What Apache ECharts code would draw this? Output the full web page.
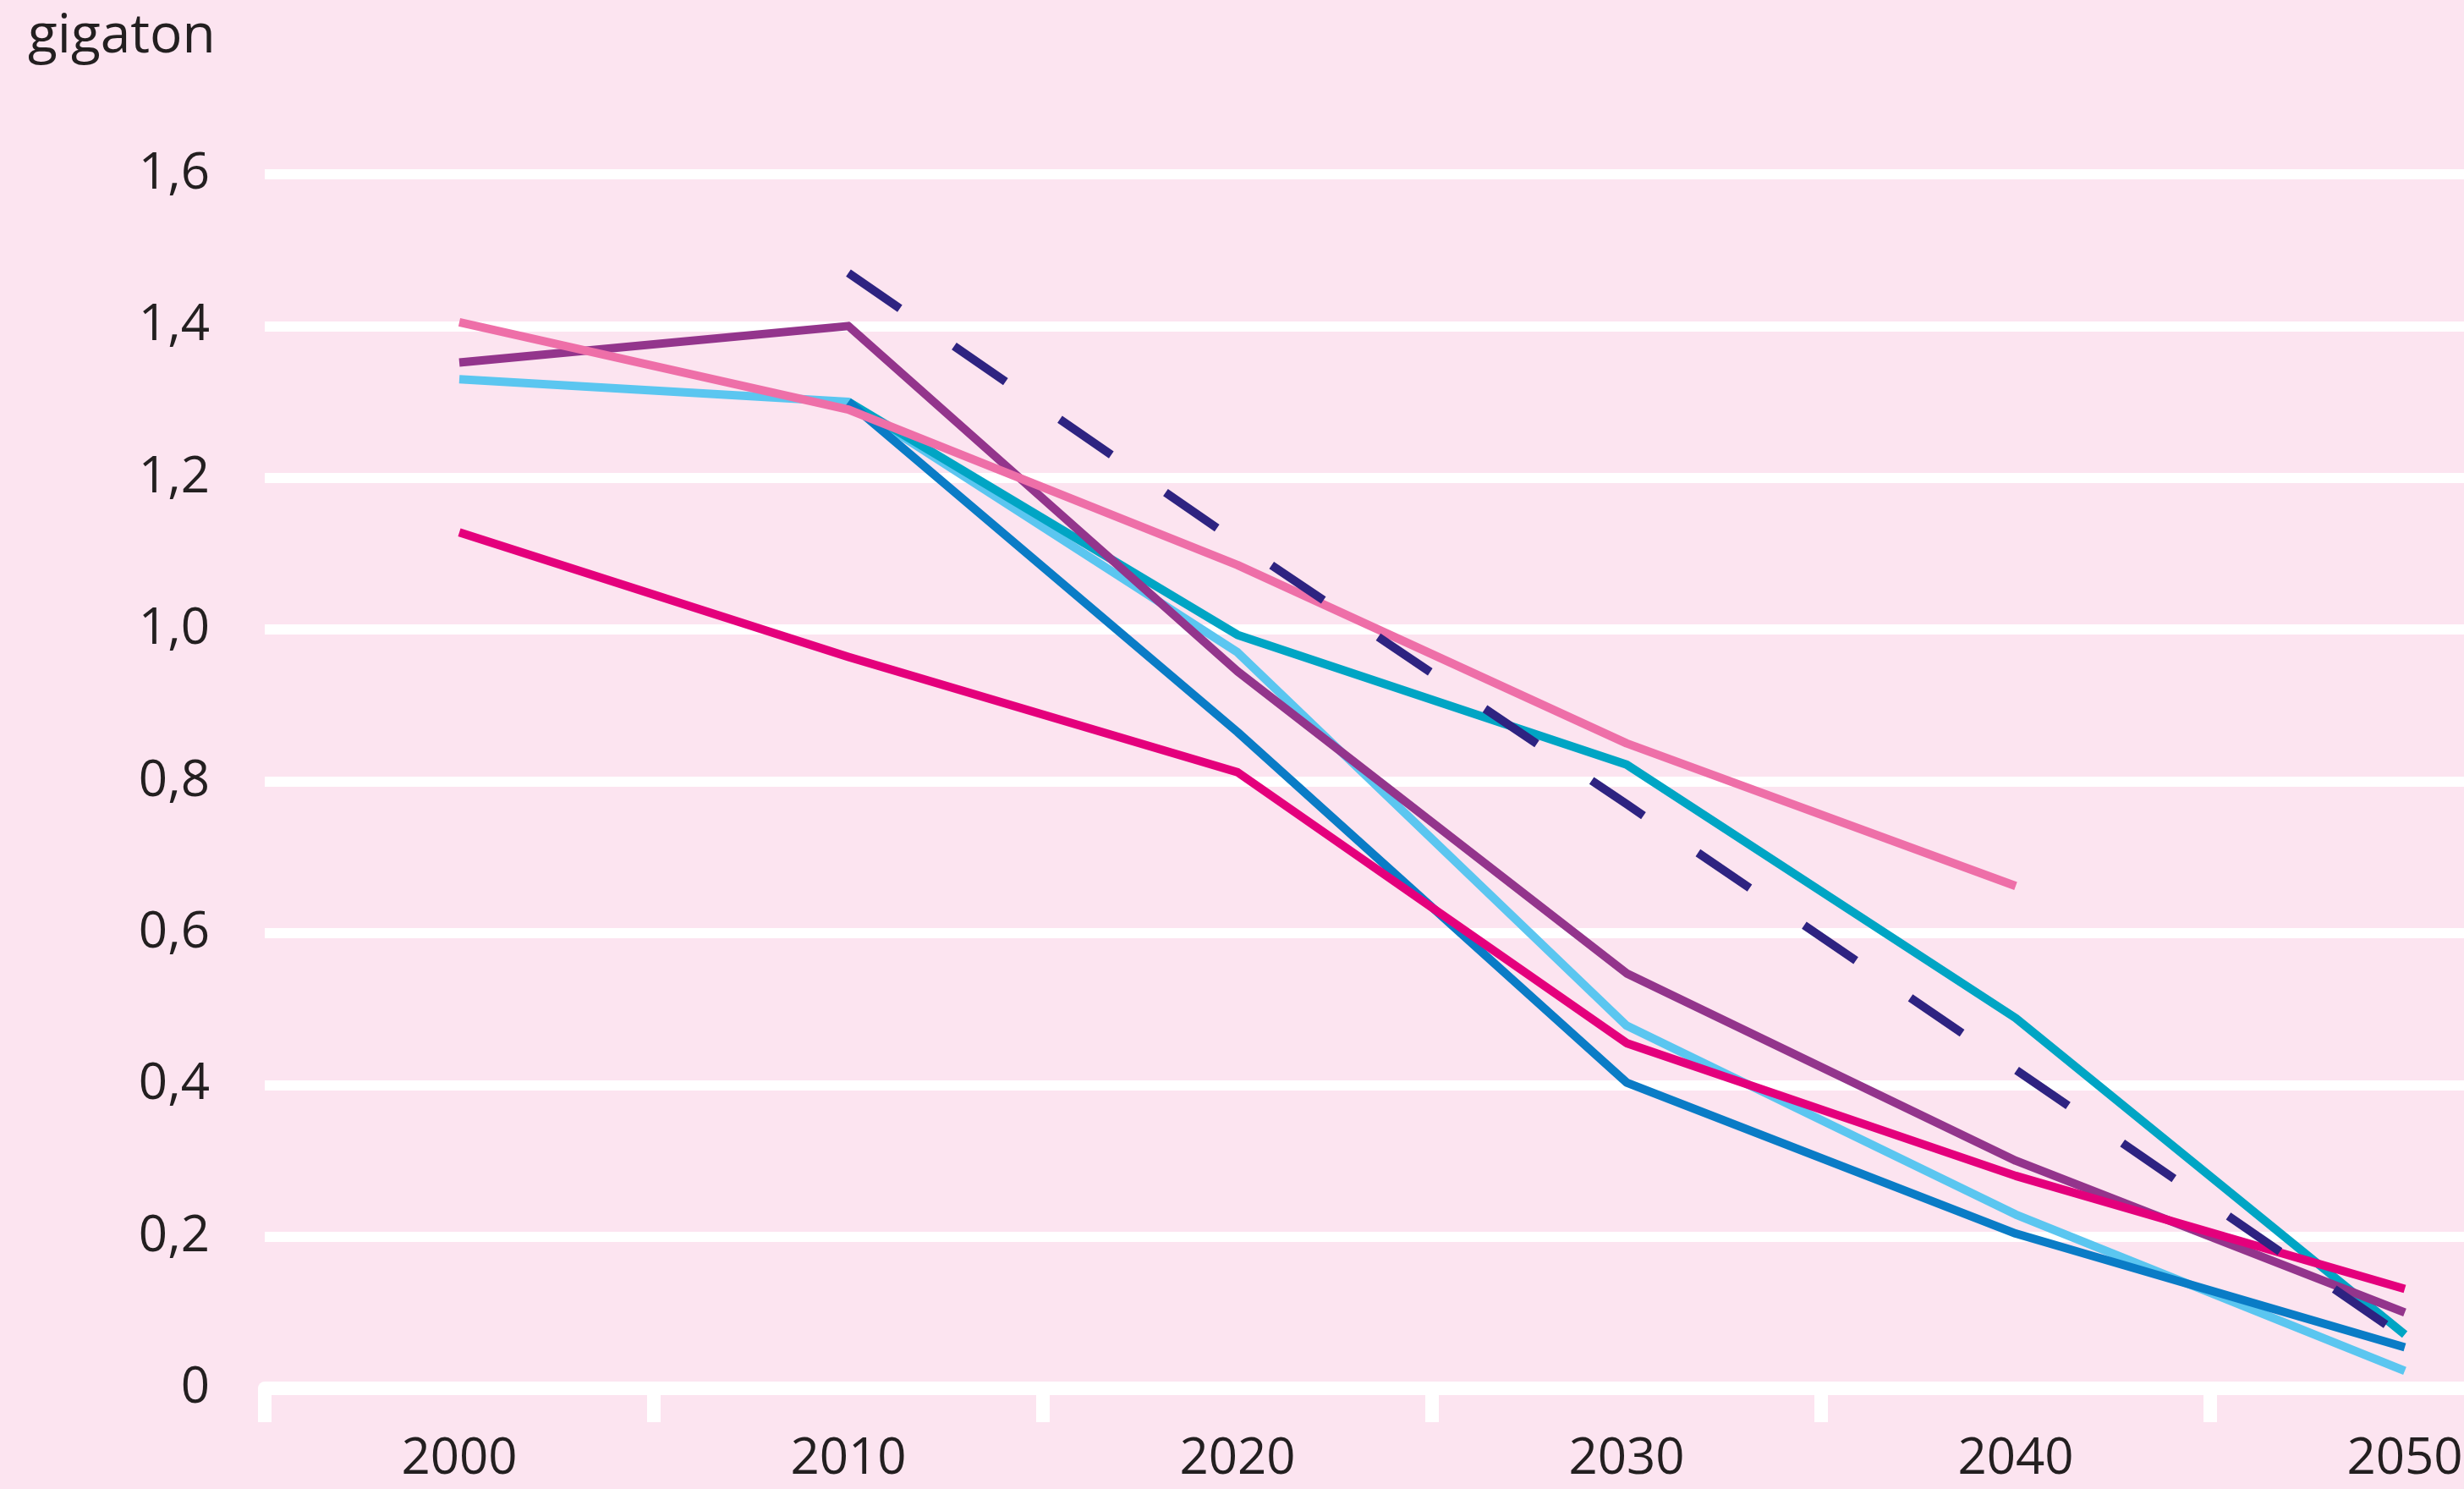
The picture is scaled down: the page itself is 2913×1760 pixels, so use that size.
<!DOCTYPE html>
<html>
<head>
<meta charset="utf-8">
<style>
  html, body { margin: 0; padding: 0; background: #fce4f0; overflow: hidden; width: 2913px; height: 1760px; }
  #chart { width: 3100px; height: 1760px; }
</style>
<script src="https://cdn.jsdelivr.net/npm/echarts@6/dist/echarts.min.js"></script>
</head>
<body>
<div id="chart"></div>
<script>
const years = ['2000', '2010', '2020', '2030', '2040', '2050'];
const yTickLabels = ['0', '0,2', '0,4', '0,6', '0,8', '1,0', '1,2', '1,4', '1,6'];

const lightBlue = [1.33, 1.30, 0.97, 0.478, 0.229, 0.023];
const teal      = [null, 1.30, 0.993, 0.822, 0.488, 0.071];
const blue      = [null, 1.30, 0.865, 0.403, 0.204, 0.054];
const purple    = [1.352, 1.40, 0.945, 0.547, 0.30, 0.10];
const magenta   = [1.128, 0.964, 0.812, 0.455, 0.28, 0.131];
const pink      = [1.405, 1.29, 1.085, 0.85, 0.662, null];
const navyDash  = [null, 1.47, 1.115, 0.77, 0.42, 0.067];

const FONT = '"Open Sans", "Noto Sans", sans-serif';
const chart = echarts.init(document.getElementById('chart'), null, { renderer: 'canvas' });

function line(name, data, color, dashed) {
  return {
    name: name,
    type: 'line',
    data: data,
    symbol: 'none',
    smooth: false,
    connectNulls: false,
    silent: true,
    animation: false,
    lineStyle: {
      color: color,
      width: 10,
      type: dashed ? [74, 78] : 'solid',
      cap: 'butt',
      join: 'round'
    }
  };
}

chart.setOption({
  backgroundColor: '#fce4f0',
  animation: false,
  grid: { left: 313, top: 206, width: 2760, height: 1435, containLabel: false },
  graphic: [{
    type: 'text',
    left: 33,
    top: 12,
    style: { text: 'gigaton', font: '64px ' + FONT, fill: '#231f20' }
  }],
  xAxis: {
    type: 'category',
    data: years,
    boundaryGap: true,
    axisLine: { show: true, lineStyle: { color: '#ffffff', width: 16 } },
    axisTick: { show: true, length: 40, lineStyle: { color: '#ffffff', width: 16 } },
    axisLabel: { margin: 54, fontSize: 60, fontFamily: FONT, color: '#231f20' },
    splitLine: { show: false }
  },
  yAxis: {
    type: 'value',
    min: 0,
    max: 1.6,
    interval: 0.2,
    axisLine: { show: false },
    axisTick: { show: false },
    axisLabel: {
      margin: 65,
      fontSize: 60,
      fontFamily: FONT,
      color: '#231f20',
      formatter: function (v) { return yTickLabels[Math.round(v / 0.2)]; }
    },
    splitLine: { show: true, lineStyle: { color: '#ffffff', width: 12 } }
  },
  series: [
    line('lichtblauw', lightBlue, '#5bc6f0'),
    line('turquoise', teal, '#00a5c4'),
    line('blauw', blue, '#0a7cc6'),
    line('paars', purple, '#93358c'),
    line('magenta', magenta, '#e4007c'),
    line('roze', pink, '#ee6fa8'),
    line('donkerblauw', navyDash, '#2e2381', true)
  ]
});
</script>
</body>
</html>
